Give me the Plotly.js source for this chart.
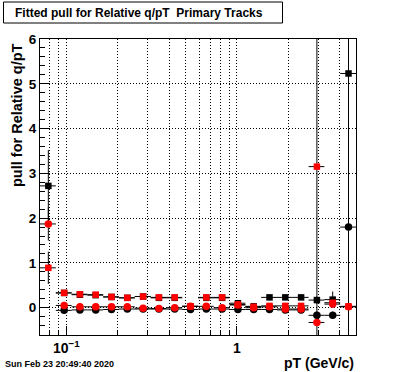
<!DOCTYPE html>
<html><head><meta charset="utf-8">
<script src="https://cdn.plot.ly/plotly-3.0.1.min.js"></script>
<style>html,body{margin:0;padding:0;background:#fff;} #chart{width:396px;height:372px;}</style>
</head><body><div id="chart"></div>
<script>
// pT bin edges (GeV/c), 20 log bins from 0.07 to 5
const binEdges = [0.07, 0.0867, 0.1073, 0.1328, 0.1644, 0.2035, 0.2519, 0.3118, 0.386, 0.4778, 0.5915, 0.7322, 0.9064, 1.122, 1.389, 1.7195, 2.1286, 2.635, 3.262, 4.038, 5.0];

// black squares
const blackSq    = [2.72, 0.33, 0.29, 0.28, 0.24, 0.22, 0.25, 0.22, 0.22, 0.03, 0.22, 0.22, 0.10, 0.03, 0.23, 0.23, 0.23, 0.17, 0.18, 5.23];
const blackSqErr = [0.80, 0.03, 0.03, 0.03, 0.03, 0.03, 0.03, 0.03, 0.03, 0.03, 0.03, 0.03, 0.04, 0.04, 0.04, 0.04, 0.05, 0.08, 0.18, 6.0];
// black circles
const blackCirc    = [null, -0.06, -0.05, -0.05, -0.04, -0.03, -0.03, -0.03, -0.03, -0.04, -0.03, -0.03, -0.04, -0.04, -0.04, -0.05, -0.05, -0.17, -0.17, 1.80];
const blackCircErr = [0, 0.03, 0.03, 0.03, 0.03, 0.03, 0.03, 0.03, 0.03, 0.03, 0.03, 0.03, 0.03, 0.03, 0.03, 0.03, 0.03, 0.08, 0.08, 0.10];
// red squares
const redSq    = [0.89, 0.33, 0.30, 0.29, 0.24, 0.22, 0.25, 0.23, 0.23, 0.03, 0.23, 0.23, 0.07, 0.02, 0.04, 0.04, 0.04, 3.15, 0.11, 0.03];
const redSqErr = [0.36, 0.03, 0.03, 0.03, 0.03, 0.03, 0.03, 0.03, 0.03, 0.03, 0.03, 0.03, 0.03, 0.03, 0.03, 0.03, 0.04, 4.0, 0.10, 0.05];
// red circles
const redCirc    = [1.87, 0.05, 0.02, 0.02, 0.02, 0.02, -0.01, -0.02, 0.0, 0.03, 0.03, 0.0, 0.06, 0.0, 0.02, -0.03, -0.03, -0.33, 0.08, 0.02];
const redCircErr = [0.37, 0.03, 0.03, 0.03, 0.03, 0.03, 0.03, 0.03, 0.03, 0.03, 0.03, 0.03, 0.03, 0.03, 0.03, 0.03, 0.03, 0.05, 0.05, 0.05];

const xMajorTicks = [0.1, 1];
const xMajorLabels = ['10<sup>\u22121</sup>', '1'];
const xMinorTicks = [0.08, 0.09, 0.2, 0.3, 0.4, 0.5, 0.6, 0.7, 0.8, 0.9, 2, 3, 4];

const centers = [], halfW = [];
for (let i = 0; i < binEdges.length - 1; i++) {
  centers.push((binEdges[i] + binEdges[i+1]) / 2);
  halfW.push((binEdges[i+1] - binEdges[i]) / 2);
}

function tr(y, err, symbol, color, size) {
  return {
    type: 'scatter', mode: 'markers', x: centers, y: y,
    marker: {symbol: symbol, color: color, size: size, line: {width: 0}},
    error_x: {type: 'data', array: halfW, visible: true, color: 'black', thickness: 1, width: 0},
    error_y: {type: 'data', array: err, visible: true, color: 'black', thickness: 1, width: 0},
    hoverinfo: 'skip'
  };
}

const data = [
  tr(blackSq, blackSqErr, 'square', 'black', 6.5),
  tr(blackCirc, blackCircErr, 'circle', 'black', 7.5),
  tr(redSq, redSqErr, 'square', '#ff0000', 6.5),
  tr(redCirc, redCircErr, 'circle', '#ff0000', 7.5)
];

const L = 40, R = 356, T = 39, B = 335;
const px2x = p => (p - L) / (R - L);
const py2y = p => (B - p) / (B - T);
const F = 'Liberation Sans, Arial, Helvetica, sans-serif';
const dotted = '1px,2px';

const layout = {
  width: 396, height: 372,
  margin: {l: L, r: 396 - R, t: T, b: 372 - B, pad: 0},
  paper_bgcolor: 'white', plot_bgcolor: 'white',
  showlegend: false,
  xaxis: {
    type: 'log', range: [Math.log10(0.07), Math.log10(5)],
    tickmode: 'array', tickvals: xMajorTicks, ticktext: xMajorLabels,
    ticks: 'inside', ticklen: 9, tickwidth: 1, tickcolor: 'black',
    tickfont: {family: F, size: 14, color: 'black', weight: 'bold'},
    showgrid: true, gridcolor: 'black', gridwidth: 1, griddash: dotted,
    minor: {tickmode: 'array', tickvals: xMinorTicks, ticks: 'inside', ticklen: 5, tickcolor: 'black', tickwidth: 1,
            showgrid: true, gridcolor: 'black', gridwidth: 1, griddash: dotted},
    showline: true, mirror: true, linecolor: 'black', linewidth: 1, zeroline: false
  },
  yaxis: {
    range: [-0.61, 6.0], tickmode: 'linear', tick0: 0, dtick: 1,
    ticks: 'inside', ticklen: 9, tickwidth: 1, tickcolor: 'black',
    tickfont: {family: F, size: 13.5, color: 'black', weight: 'bold'},
    showgrid: true, gridcolor: 'black', gridwidth: 1, griddash: dotted,
    minor: {dtick: 0.2, ticks: 'inside', ticklen: 5, tickcolor: 'black', tickwidth: 1, showgrid: false},
    showline: true, mirror: true, linecolor: 'black', linewidth: 1, zeroline: false
  },
  shapes: [
    {type: 'rect', xref: 'paper', yref: 'paper', x0: px2x(3.5), x1: px2x(282.5), y0: py2y(23), y1: py2y(2),
     fillcolor: 'white', line: {color: 'black', width: 1}, layer: 'above'}
  ],
  annotations: [
    {xref: 'paper', yref: 'paper', x: px2x(13), y: py2y(12.5), xanchor: 'left', yanchor: 'middle', showarrow: false,
     text: 'Fitted pull for Relative q/pT  Primary Tracks', font: {family: F, size: 12, color: 'black', weight: 'bold'}},
    {xref: 'paper', yref: 'paper', x: px2x(17), y: py2y(115), xanchor: 'center', yanchor: 'middle', showarrow: false,
     textangle: -90, text: 'pull for Relative q/pT', font: {family: F, size: 14.5, color: 'black', weight: 'bold'}},
    {xref: 'paper', yref: 'paper', x: px2x(355.5), y: py2y(362.5), xanchor: 'right', yanchor: 'middle', showarrow: false,
     text: 'pT (GeV/c)', font: {family: F, size: 14, color: 'black', weight: 'bold'}},
    {xref: 'paper', yref: 'paper', x: px2x(2.5), y: py2y(364.5), xanchor: 'left', yanchor: 'middle', showarrow: false,
     text: 'Sun Feb 23 20:49:40 2020', font: {family: F, size: 9, color: 'black', weight: 'bold'}}
  ]
};

Plotly.newPlot('chart', data, layout, {staticPlot: true, displayModeBar: false});
</script>
</body></html>
